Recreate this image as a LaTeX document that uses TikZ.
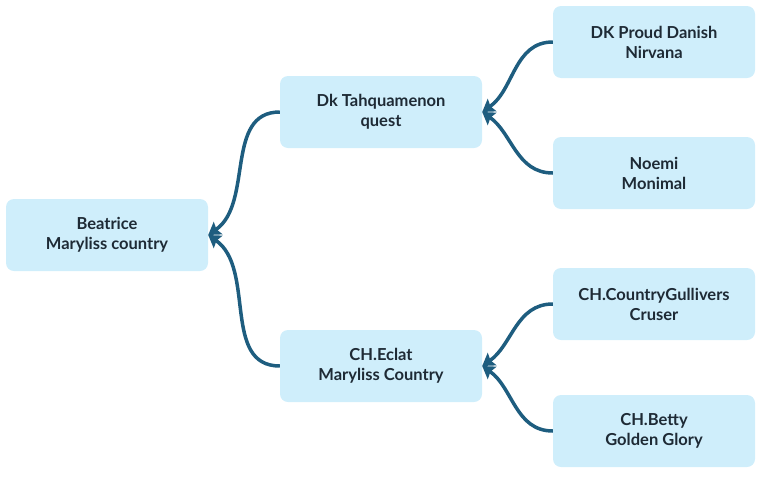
\documentclass[tikz,border=0pt]{standalone}
\usepackage{fontspec}
\setmainfont{Lato}
\usetikzlibrary{arrows.meta}
\definecolor{boxfill}{HTML}{CFEEFB}
\definecolor{linkcol}{HTML}{1E5D7F}
\definecolor{txtcol}{HTML}{1E2A35}
\begin{document}
\begin{tikzpicture}[x=1pt, y=-1pt,
	box/.style={fill=boxfill, rounded corners=8pt, minimum width=202pt, minimum height=72pt, align=center, text=txtcol, font=\bfseries\fontsize{16.5}{20}\selectfont},
	link/.style={draw=linkcol, line width=3.5pt, -{Stealth[length=12pt, width=15pt, inset=2pt]}}]
	\useasboundingbox (0, 0) rectangle (768, 477);

	\node (bea) at (107, 235) [box] {Beatrice \\ Maryliss country};
	\node (dkt) at (381, 112) [box] {Dk Tahquamenon \\ quest};
	\node (ecl) at (381, 366) [box] {CH.Eclat \\ Maryliss Country};
	\node (dkp) at (654, 42) [box] {DK Proud Danish \\ Nirvana};
	\node (noe) at (654, 173) [box] {Noemi \\ Monimal};
	\node (gul) at (654, 304) [box] {CH.CountryGullivers \\ Cruser};
	\node (bet) at (654, 431) [box] {CH.Betty \\ Golden Glory};

	% upper children come in from above, lower ones from below
	\draw[link] (dkt.west) to[out=180, in=35] (bea.east);
	\draw[link] (ecl.west) to[out=180, in=-35] (bea.east);
	\draw[link] (dkp.west) to[out=180, in=35] (dkt.east);
	\draw[link] (noe.west) to[out=180, in=-35] (dkt.east);
	\draw[link] (gul.west) to[out=180, in=35] (ecl.east);
	\draw[link] (bet.west) to[out=180, in=-35] (ecl.east);
\end{tikzpicture}
\end{document}
